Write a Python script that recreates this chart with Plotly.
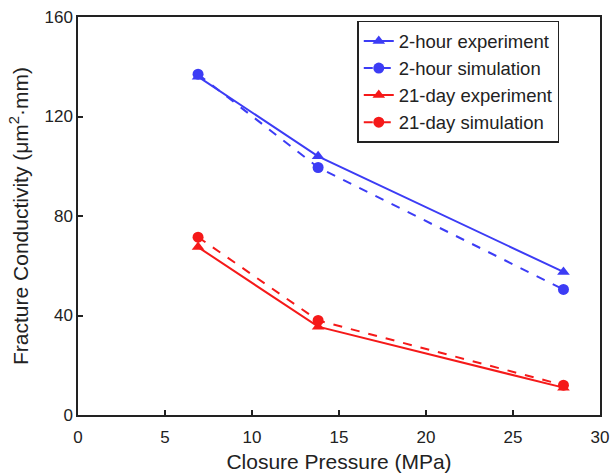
import plotly.graph_objects as go

pressure = [6.9, 13.8, 27.9]
exp_2h = [136, 104, 57.5]
sim_2h = [137, 99.5, 50.5]
exp_21d = [67.5, 35.5, 11]
sim_21d = [71.5, 38, 12]

blue = "rgb(60,60,245)"
red = "rgb(245,25,25)"

fig = go.Figure()
fig.add_trace(go.Scatter(x=pressure, y=exp_2h, mode="lines+markers", name="2-hour experiment",
                         line=dict(color=blue, width=2), marker=dict(symbol="triangle-up", size=11, color=blue)))
fig.add_trace(go.Scatter(x=pressure, y=sim_2h, mode="lines+markers", name="2-hour simulation",
                         line=dict(color=blue, width=2, dash="dash"), marker=dict(symbol="circle", size=11, color=blue)))
fig.add_trace(go.Scatter(x=pressure, y=exp_21d, mode="lines+markers", name="21-day experiment",
                         line=dict(color=red, width=2), marker=dict(symbol="triangle-up", size=11, color=red)))
fig.add_trace(go.Scatter(x=pressure, y=sim_21d, mode="lines+markers", name="21-day simulation",
                         line=dict(color=red, width=2, dash="dash"), marker=dict(symbol="circle", size=11, color=red)))

font_family = "Liberation Sans, Arial, sans-serif"
fig.update_layout(
    width=614, height=473,
    margin=dict(l=78, r=14, t=17, b=58),
    plot_bgcolor="white", paper_bgcolor="white",
    font=dict(family=font_family, size=17, color="#222"),
    showlegend=True,
    legend=dict(x=0.535, y=0.99, xanchor="left", yanchor="top",
                bordercolor="#222", borderwidth=1.5, bgcolor="white",
                font=dict(size=18.5, family=font_family, color="#222"),
                tracegroupgap=0, itemwidth=30),
    xaxis=dict(range=[0, 30], tickvals=[0, 5, 10, 15, 20, 25, 30],
               ticks="inside", ticklen=5, tickwidth=1.5, tickcolor="#222",
               ticklabelstandoff=6, automargin=False,
               showline=True, linecolor="#222", linewidth=1.5, mirror=True,
               showgrid=False, zeroline=False,
               title=dict(text="Closure Pressure (MPa)", font=dict(size=21), standoff=8)),
    yaxis=dict(range=[0, 160], tickvals=[0, 40, 80, 120, 160],
               ticks="inside", ticklen=5, tickwidth=1.5, tickcolor="#222",
               automargin=False,
               showline=True, linecolor="#222", linewidth=1.5, mirror=True,
               showgrid=False, zeroline=False,
               title=dict(text="Fracture Conductivity (μm<sup>2</sup>·mm)", font=dict(size=21), standoff=10)),
)

fig.write_html("out.html")
